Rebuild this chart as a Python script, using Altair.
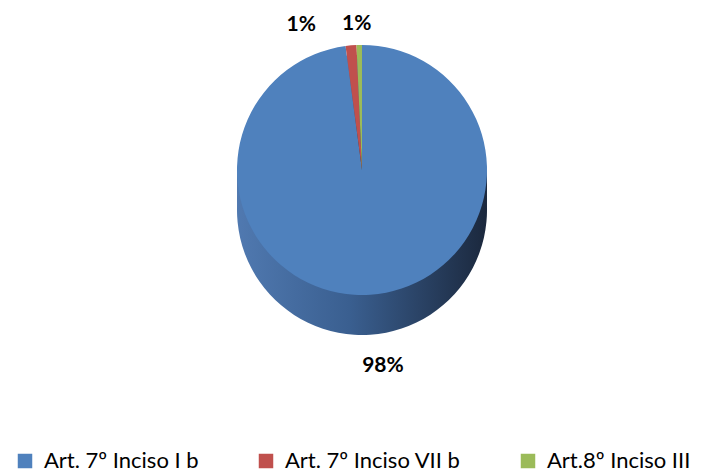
import altair as alt
import pandas as pd

# ---- data ----
categories = ["Art. 7º Inciso I b", "Art. 7º Inciso VII b", "Art.8º Inciso III"]
values = [97.9, 1.4, 0.7]
labels = ["98%", "1%", "1%"]
order = [0, 1, 2]

# ---- styles ----
colors = ["#4F81BD", "#C0504D", "#9BBB59"]
FONT = "Lato"
W, H = 695, 456
CX, CY = 354, 162
R = 125
DEPTH = 40
TOTAL = sum(values)

df = pd.DataFrame({"cat": categories, "value": values, "label": labels, "idx": order})

theta_scale = alt.Scale(domain=[0, TOTAL], range=[0, 6.283185307])

base = alt.Chart(df).transform_window(
    cum="sum(value)", sort=[alt.SortField("idx")]
).transform_calculate(
    start="datum.cum - datum.value",
    mid="datum.cum - datum.value / 2",
)

side_fill = alt.LinearGradient(
    gradient="linear",
    stops=[
        alt.GradientStop(color="#5079B0", offset=0),
        alt.GradientStop(color="#3A5F90", offset=0.45),
        alt.GradientStop(color="#1B283D", offset=1),
    ],
    x1=0, x2=1, y1=0, y2=0,
)

layers = []
for k in [DEPTH, 30, 20, 10]:
    layers.append(
        base.mark_arc(radius=R, fill=side_fill).encode(
            theta=alt.Theta("start:Q", scale=theta_scale),
            theta2="cum:Q",
            x=alt.value(CX),
            y=alt.value(CY + k),
        )
    )

top = base.mark_arc(radius=R).encode(
    theta=alt.Theta("start:Q", scale=theta_scale),
    theta2="cum:Q",
    x=alt.value(CX),
    y=alt.value(CY),
    color=alt.Color(
        "cat:N",
        scale=alt.Scale(domain=categories, range=colors),
        title=None,
        legend=alt.Legend(
            orient="none",
            legendX=6,
            legendY=442,
            direction="horizontal",
            columns=3,
            columnPadding=56,
            symbolType="square",
            symbolSize=210,
            symbolStrokeWidth=0,
            labelFont=FONT,
            labelFontSize=22,
            labelColor="#000000",
            labelLimit=400,
            labelOffset=8,
        ),
    ),
)
layers.append(top)

text_specs = [
    (categories[0], 196, 8),
    (categories[1], 146, -48),
    (categories[2], 146, -2),
]
for cat, rad, dx in text_specs:
    layers.append(
        base.transform_filter(alt.datum.cat == cat).mark_text(
            radius=rad, dx=dx, font=FONT, fontWeight="bold", fontSize=21, color="#000000"
        ).encode(
            theta=alt.Theta("mid:Q", scale=theta_scale),
            x=alt.value(CX),
            y=alt.value(CY),
            text="label:N",
        )
    )

chart = alt.layer(*layers).properties(
    width=W, height=H, padding=0
).configure_view(strokeWidth=0)

chart.save("out.html", embed_options={"renderer": "svg", "actions": False})
